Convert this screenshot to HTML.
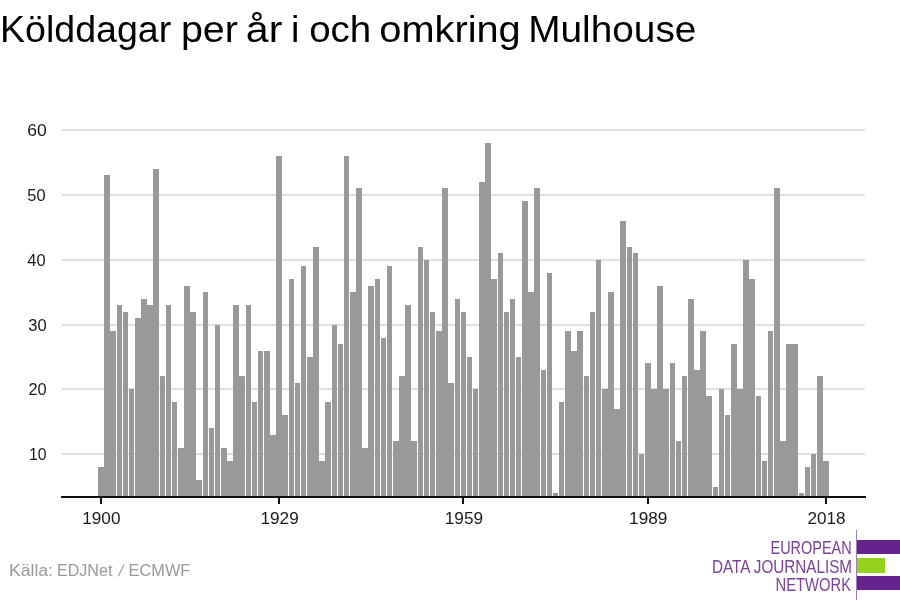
<!DOCTYPE html>
<html lang="sv"><head><meta charset="utf-8"><title>Kölddagar per år i och omkring Mulhouse</title>
<style>
html,body{margin:0;padding:0;background:#fff;}
body{width:900px;height:600px;overflow:hidden;font-family:"Liberation Sans",sans-serif;}
svg{display:block;}
svg text{font-family:"Liberation Sans",sans-serif;}
.title text{font-size:36px;fill:#000;}
.yl text{font-size:17px;fill:#1a1a1a;}
.xl text{font-size:17px;fill:#1a1a1a;}
.src text{font-size:16px;fill:#999;}
.logo text{font-size:17.8px;fill:#7a429c;}
.bars rect{fill:#999;shape-rendering:crispEdges;}
.grid rect{fill:#e0e0e0;shape-rendering:crispEdges;}
.axis rect{fill:#111;shape-rendering:crispEdges;}
</style></head><body>
<svg width="900" height="600" viewBox="0 0 900 600">
<rect width="900" height="600" fill="#fff"/>
<g class="title">
<text x="0.07" y="41.9" textLength="171.16" lengthAdjust="spacingAndGlyphs">Kölddagar</text>
<text x="180.90" y="41.9" textLength="57.03" lengthAdjust="spacingAndGlyphs">per</text>
<text x="245.82" y="41.9" textLength="36.54" lengthAdjust="spacingAndGlyphs">år</text>
<text x="291.06" y="41.9" textLength="8.39" lengthAdjust="spacingAndGlyphs">i</text>
<text x="309.16" y="41.9" textLength="62.08" lengthAdjust="spacingAndGlyphs">och</text>
<text x="379.29" y="41.9" textLength="141.46" lengthAdjust="spacingAndGlyphs">omkring</text>
<text x="528.27" y="41.9" textLength="168.09" lengthAdjust="spacingAndGlyphs">Mulhouse</text>
</g>
<g class="grid">
<rect x="62" y="453" width="803" height="2"/>
<rect x="62" y="388" width="803" height="2"/>
<rect x="62" y="324" width="803" height="2"/>
<rect x="62" y="259" width="803" height="2"/>
<rect x="62" y="194" width="803" height="2"/>
<rect x="62" y="129" width="803" height="2"/>
</g>
<g class="yl">
<text x="29.05" y="460.0" textLength="17.58" lengthAdjust="spacingAndGlyphs">10</text>
<text x="28.44" y="395.0" textLength="18.22" lengthAdjust="spacingAndGlyphs">20</text>
<text x="28.30" y="331.0" textLength="18.37" lengthAdjust="spacingAndGlyphs">30</text>
<text x="27.34" y="266.0" textLength="18.32" lengthAdjust="spacingAndGlyphs">40</text>
<text x="27.37" y="201.0" textLength="18.29" lengthAdjust="spacingAndGlyphs">50</text>
<text x="27.24" y="136.0" textLength="19.48" lengthAdjust="spacingAndGlyphs">60</text>
</g>
<g class="bars">
<rect x="98" y="467" width="6" height="29"/>
<rect x="104" y="175" width="6" height="321"/>
<rect x="110" y="331" width="6" height="165"/>
<rect x="117" y="305" width="5" height="191"/>
<rect x="123" y="312" width="5" height="184"/>
<rect x="129" y="389" width="5" height="107"/>
<rect x="135" y="318" width="6" height="178"/>
<rect x="141" y="299" width="6" height="197"/>
<rect x="147" y="305" width="6" height="191"/>
<rect x="153" y="169" width="6" height="327"/>
<rect x="160" y="376" width="5" height="120"/>
<rect x="166" y="305" width="5" height="191"/>
<rect x="172" y="402" width="5" height="94"/>
<rect x="178" y="448" width="6" height="48"/>
<rect x="184" y="286" width="6" height="210"/>
<rect x="190" y="312" width="6" height="184"/>
<rect x="196" y="480" width="6" height="16"/>
<rect x="203" y="292" width="5" height="204"/>
<rect x="209" y="428" width="5" height="68"/>
<rect x="215" y="325" width="5" height="171"/>
<rect x="221" y="448" width="6" height="48"/>
<rect x="227" y="461" width="6" height="35"/>
<rect x="233" y="305" width="6" height="191"/>
<rect x="239" y="376" width="6" height="120"/>
<rect x="246" y="305" width="5" height="191"/>
<rect x="252" y="402" width="5" height="94"/>
<rect x="258" y="351" width="5" height="145"/>
<rect x="264" y="351" width="6" height="145"/>
<rect x="270" y="435" width="6" height="61"/>
<rect x="276" y="156" width="6" height="340"/>
<rect x="282" y="415" width="6" height="81"/>
<rect x="289" y="279" width="5" height="217"/>
<rect x="295" y="383" width="5" height="113"/>
<rect x="301" y="266" width="5" height="230"/>
<rect x="307" y="357" width="6" height="139"/>
<rect x="313" y="247" width="6" height="249"/>
<rect x="319" y="461" width="6" height="35"/>
<rect x="325" y="402" width="6" height="94"/>
<rect x="332" y="325" width="5" height="171"/>
<rect x="338" y="344" width="5" height="152"/>
<rect x="344" y="156" width="5" height="340"/>
<rect x="350" y="292" width="6" height="204"/>
<rect x="356" y="188" width="6" height="308"/>
<rect x="362" y="448" width="6" height="48"/>
<rect x="368" y="286" width="6" height="210"/>
<rect x="375" y="279" width="5" height="217"/>
<rect x="381" y="338" width="5" height="158"/>
<rect x="387" y="266" width="5" height="230"/>
<rect x="393" y="441" width="6" height="55"/>
<rect x="399" y="376" width="6" height="120"/>
<rect x="405" y="305" width="6" height="191"/>
<rect x="411" y="441" width="6" height="55"/>
<rect x="418" y="247" width="5" height="249"/>
<rect x="424" y="260" width="5" height="236"/>
<rect x="430" y="312" width="5" height="184"/>
<rect x="436" y="331" width="6" height="165"/>
<rect x="442" y="188" width="6" height="308"/>
<rect x="448" y="383" width="6" height="113"/>
<rect x="455" y="299" width="5" height="197"/>
<rect x="461" y="312" width="5" height="184"/>
<rect x="467" y="357" width="5" height="139"/>
<rect x="473" y="389" width="5" height="107"/>
<rect x="479" y="182" width="6" height="314"/>
<rect x="485" y="143" width="6" height="353"/>
<rect x="491" y="279" width="6" height="217"/>
<rect x="498" y="253" width="5" height="243"/>
<rect x="504" y="312" width="5" height="184"/>
<rect x="510" y="299" width="5" height="197"/>
<rect x="516" y="357" width="5" height="139"/>
<rect x="522" y="201" width="6" height="295"/>
<rect x="528" y="292" width="6" height="204"/>
<rect x="534" y="188" width="6" height="308"/>
<rect x="541" y="370" width="5" height="126"/>
<rect x="547" y="273" width="5" height="223"/>
<rect x="553" y="493" width="5" height="3"/>
<rect x="559" y="402" width="5" height="94"/>
<rect x="565" y="331" width="6" height="165"/>
<rect x="571" y="351" width="6" height="145"/>
<rect x="577" y="331" width="6" height="165"/>
<rect x="584" y="376" width="5" height="120"/>
<rect x="590" y="312" width="5" height="184"/>
<rect x="596" y="260" width="5" height="236"/>
<rect x="602" y="389" width="6" height="107"/>
<rect x="608" y="292" width="6" height="204"/>
<rect x="614" y="409" width="6" height="87"/>
<rect x="620" y="221" width="6" height="275"/>
<rect x="627" y="247" width="5" height="249"/>
<rect x="633" y="253" width="5" height="243"/>
<rect x="639" y="454" width="5" height="42"/>
<rect x="645" y="363" width="6" height="133"/>
<rect x="651" y="389" width="6" height="107"/>
<rect x="657" y="286" width="6" height="210"/>
<rect x="663" y="389" width="6" height="107"/>
<rect x="670" y="363" width="5" height="133"/>
<rect x="676" y="441" width="5" height="55"/>
<rect x="682" y="376" width="5" height="120"/>
<rect x="688" y="299" width="6" height="197"/>
<rect x="694" y="370" width="6" height="126"/>
<rect x="700" y="331" width="6" height="165"/>
<rect x="706" y="396" width="6" height="100"/>
<rect x="713" y="487" width="5" height="9"/>
<rect x="719" y="389" width="5" height="107"/>
<rect x="725" y="415" width="5" height="81"/>
<rect x="731" y="344" width="6" height="152"/>
<rect x="737" y="389" width="6" height="107"/>
<rect x="743" y="260" width="6" height="236"/>
<rect x="749" y="279" width="6" height="217"/>
<rect x="756" y="396" width="5" height="100"/>
<rect x="762" y="461" width="5" height="35"/>
<rect x="768" y="331" width="5" height="165"/>
<rect x="774" y="188" width="6" height="308"/>
<rect x="780" y="441" width="6" height="55"/>
<rect x="786" y="344" width="6" height="152"/>
<rect x="792" y="344" width="6" height="152"/>
<rect x="799" y="493" width="5" height="3"/>
<rect x="805" y="467" width="5" height="29"/>
<rect x="811" y="454" width="5" height="42"/>
<rect x="817" y="376" width="6" height="120"/>
<rect x="823" y="461" width="6" height="35"/>
</g>
<g class="axis"><rect x="61" y="496" width="805" height="2"/>
<rect x="100" y="498" width="2" height="6"/>
<rect x="278" y="498" width="2" height="6"/>
<rect x="462" y="498" width="2" height="6"/>
<rect x="647" y="498" width="2" height="6"/>
<rect x="825" y="498" width="2" height="6"/>
</g><g class="xl">
<text x="82.27" y="524" textLength="38.17" lengthAdjust="spacingAndGlyphs">1900</text>
<text x="260.45" y="524" textLength="38.32" lengthAdjust="spacingAndGlyphs">1929</text>
<text x="444.78" y="524" textLength="38.32" lengthAdjust="spacingAndGlyphs">1959</text>
<text x="629.11" y="524" textLength="38.32" lengthAdjust="spacingAndGlyphs">1989</text>
<text x="807.62" y="524" textLength="37.92" lengthAdjust="spacingAndGlyphs">2018</text>
</g>
<g class="src">
<text x="8.94" y="576" textLength="44.08" lengthAdjust="spacingAndGlyphs">Källa:</text>
<text x="56.96" y="576" textLength="55.44" lengthAdjust="spacingAndGlyphs">EDJNet</text>
<text transform="translate(117.80,576) skewX(-12)" x="0" y="0">/</text>
<text x="128.64" y="576" textLength="61.63" lengthAdjust="spacingAndGlyphs">ECMWF</text>
</g>
<g class="logo">
<text x="770.50" y="554.2" textLength="81.20" lengthAdjust="spacingAndGlyphs">EUROPEAN</text>
<text x="712.03" y="572.6" textLength="140.02" lengthAdjust="spacingAndGlyphs">DATA JOURNALISM</text>
<text x="775.57" y="590.7" textLength="75.50" lengthAdjust="spacingAndGlyphs">NETWORK</text>
<rect x="856" y="530" width="1" height="70" fill="#a37bbb"/>
<rect x="857" y="540" width="43" height="14" fill="#65238e"/>
<rect x="857" y="558" width="28" height="15" fill="#95d11f"/>
<rect x="857" y="576" width="43" height="14" fill="#65238e"/>
</g>
</svg>
</body></html>
